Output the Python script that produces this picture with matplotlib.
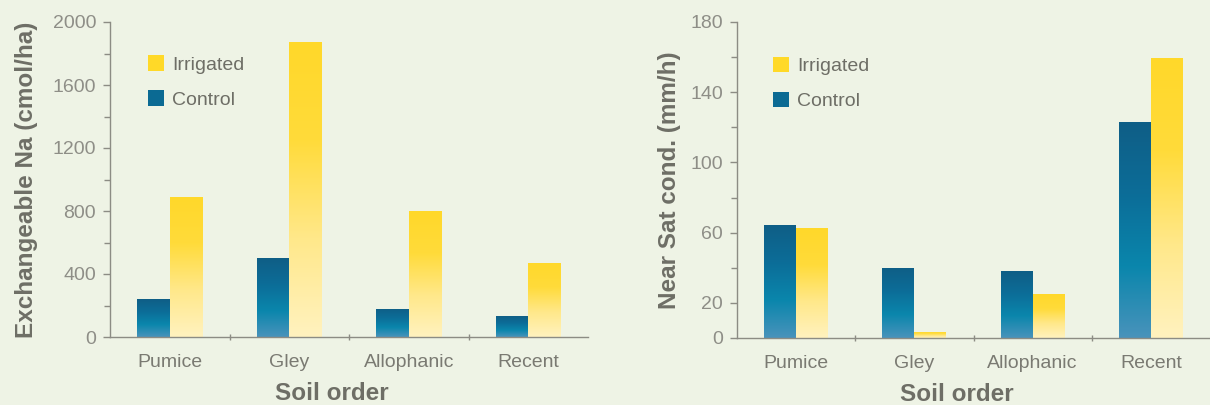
import numpy as np
import matplotlib.pyplot as plt
from matplotlib.colors import LinearSegmentedColormap
from matplotlib.patches import Patch

# data
soils = ["Pumice", "Gley", "Allophanic", "Recent"]
na_control = [240, 500, 178, 133]
na_irrigated = [890, 1875, 800, 470]
cond_control = [64.5, 40, 38, 123]
cond_irrigated = [62.5, 3.5, 25, 159.5]

na_ticks = [0, 400, 800, 1200, 1600, 2000]
na_minor = [200, 600, 1000, 1400, 1800]
cond_ticks = [0, 20, 60, 100, 140, 180]
cond_minor = [40, 80, 120, 160]

bg = "#eef3e5"
axis_col = "#8c8c84"
tick_col = "#8e8e87"
label_col = "#6e6e66"

blue_cmap = LinearSegmentedColormap.from_list("blue", ["#4993bb", "#0a86ac", "#0c6d98", "#0f5e86"])
yellow_cmap = LinearSegmentedColormap.from_list("yellow", ["#fff2bf", "#ffe88a", "#ffdb3a", "#ffd82a"])

plt.rcParams['font.family'] = ['Liberation Sans', 'DejaVu Sans']

fig = plt.figure(figsize=(12.1, 4.05), dpi=100)
fig.patch.set_facecolor(bg)

grad = np.linspace(0, 1, 256).reshape(-1, 1)


def gradient_bars(ax, bars, cmap):
    # fill each bar with a vertical gradient clipped to the bar shape
    for b in bars:
        b.set_facecolor("none")
        b.set_edgecolor("none")
        x0, y0 = b.get_x(), b.get_y()
        w, h = b.get_width(), b.get_height()
        im = ax.imshow(grad, extent=(x0, x0 + w, y0, y0 + h), origin="lower",
                       cmap=cmap, aspect="auto", zorder=2, interpolation="bilinear")
        im.set_clip_path(b)


def panel(rect, control, irrigated, ylim, ticks, minor, ylabel, leg_anchor):
    ax = fig.add_axes(rect)
    ax.set_facecolor(bg)
    x = np.arange(len(soils))
    w = 0.27
    bc = ax.bar(x - w / 2, control, w, zorder=2)
    bi = ax.bar(x + w / 2, irrigated, w, zorder=2)
    gradient_bars(ax, bc, blue_cmap)
    gradient_bars(ax, bi, yellow_cmap)

    ax.set_xlim(-0.5, len(soils) - 0.5)
    ax.set_ylim(*ylim)
    for s in ["top", "right"]:
        ax.spines[s].set_visible(False)
    for s in ["left", "bottom"]:
        ax.spines[s].set_color(axis_col)
        ax.spines[s].set_linewidth(1.0)

    ax.set_yticks(ticks)
    ax.set_yticks(minor, minor=True)
    ax.tick_params(axis="y", which="major", length=5, width=1, color=axis_col,
                   labelcolor=tick_col, labelsize=14, pad=5)
    ax.tick_params(axis="y", which="minor", length=4, width=1, color=axis_col)

    # group separators as major ticks, names on minor ticks
    ax.set_xticks([0.5, 1.5, 2.5])
    ax.set_xticklabels([])
    ax.set_xticks(x, minor=True)
    ax.set_xticklabels(soils, minor=True)
    ax.tick_params(axis="x", which="major", length=4, width=1, color=axis_col, direction="inout")
    ax.tick_params(axis="x", which="minor", length=0, labelcolor="#7a7a72", labelsize=14, pad=12)

    ax.set_ylabel(ylabel, fontsize=17.5, fontweight="bold", color=label_col)
    ax.set_xlabel("Soil order", fontsize=17.5, fontweight="bold", color=label_col)
    ax.xaxis.set_label_coords(0.465, -0.143)

    handles = [Patch(facecolor="#ffd928", edgecolor="none"),
               Patch(facecolor="#0b6a93", edgecolor="none")]
    ax.legend(handles, ["Irrigated", "Control"], loc="upper left",
              bbox_to_anchor=leg_anchor, frameon=False, fontsize=14,
              handlelength=0.85, handleheight=0.85, handletextpad=0.4,
              labelspacing=0.85, borderpad=0, borderaxespad=0, labelcolor=label_col)
    return ax


ax1 = panel([110 / 1210, 68 / 405, 478 / 1210, 315 / 405], na_control, na_irrigated,
            (0, 2000), na_ticks, na_minor, "Exchangeable Na (cmol/ha)", (0.079, 0.894))
ax1.yaxis.set_label_coords(-0.15, 0.5)

ax2 = panel([737 / 1210, 67 / 405, 473 / 1210, 316 / 405], cond_control, cond_irrigated,
            (0, 180), cond_ticks, cond_minor, "Near Sat cond. (mm/h)", (0.076, 0.89))
ax2.yaxis.set_label_coords(-0.118, 0.5)

fig.savefig("out.png", dpi=100, facecolor=bg)
